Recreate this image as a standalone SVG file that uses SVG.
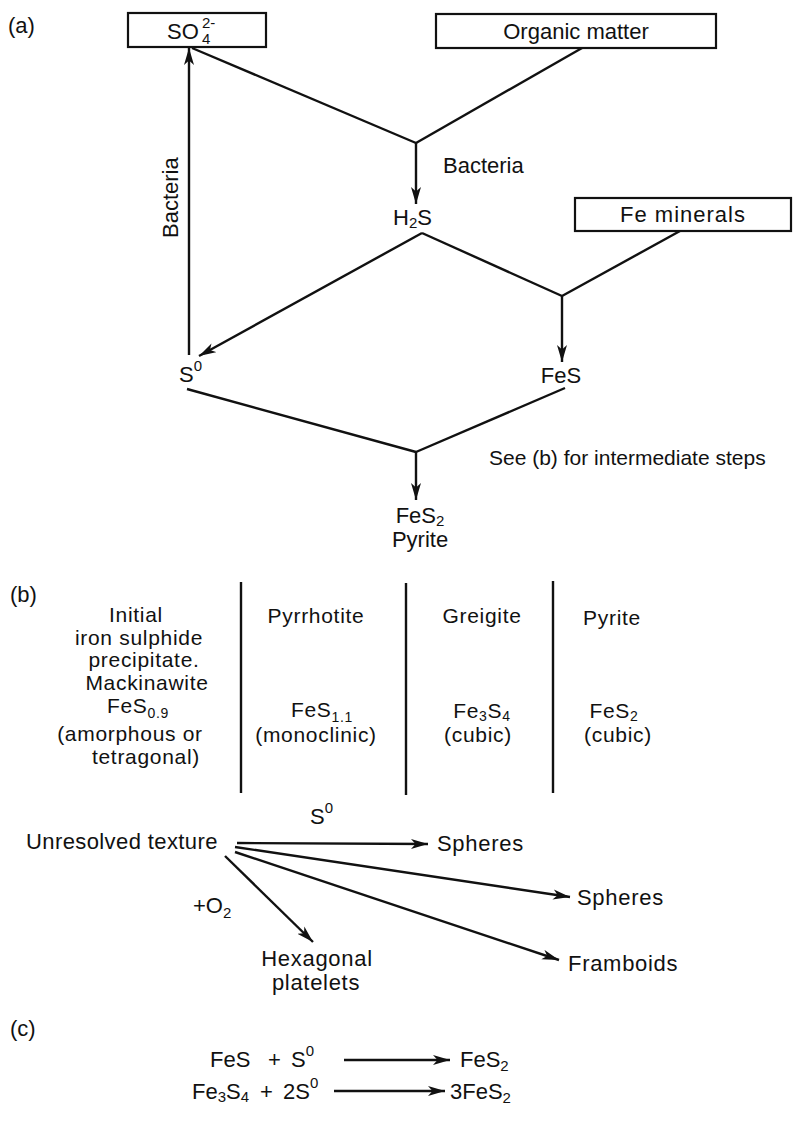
<svg xmlns="http://www.w3.org/2000/svg" width="793" height="1123" viewBox="0 0 793 1123">
<defs>
<style>
.t{font-family:"Liberation Sans",Arial,Helvetica,sans-serif;font-size:22px;fill:#111}
.b{font-size:21px}
.m{text-anchor:middle}
.ls{letter-spacing:0.7px}
.ln{stroke:#111;stroke-width:2.4;fill:none}
.box{fill:#fff;stroke:#111;stroke-width:2.2}
</style>
<marker id="arr" viewBox="0 0 17 11" refX="17" refY="5.5" markerWidth="17" markerHeight="11" markerUnits="userSpaceOnUse" orient="auto">
<path d="M0,0.5 L17,5.5 L0,10.5 L4.5,5.5 Z" fill="#111"/>
</marker>
</defs>
<rect x="0" y="0" width="793" height="1123" fill="#fff"/>

<!-- Part (a) -->
<text class="t" x="8" y="33">(a)</text>

<g id="connectors-a">
<path class="ln" d="M192,48 L416,143"/>
<path class="ln" d="M582,48 L416,143"/>
<path class="ln" d="M416,143 L416,204" marker-end="url(#arr)"/>
<path class="ln" d="M422,233 L199,356" marker-end="url(#arr)"/>
<path class="ln" d="M422,233 L562,296"/>
<path class="ln" d="M680,231 L562,296"/>
<path class="ln" d="M562,296 L562,362" marker-end="url(#arr)"/>
<path class="ln" d="M189,355 L189,48" marker-end="url(#arr)"/>
<path class="ln" d="M187,389 L416,452"/>
<path class="ln" d="M565,388 L416,452"/>
<path class="ln" d="M416,452 L416,500" marker-end="url(#arr)"/>
</g>

<g id="node-so4">
<rect class="box" x="128" y="13" width="138" height="34"/>
<text class="t" x="167" y="39">SO<tspan x="202" y="28" font-size="15">2-</tspan><tspan x="202" y="44" font-size="15">4</tspan></text>
</g>

<g id="node-organic">
<rect class="box" x="436" y="14" width="280" height="34"/>
<text class="t m" x="576" y="39">Organic matter</text>
</g>

<g id="label-bacteria-1">
<text class="t" x="443" y="173">Bacteria</text>
</g>

<g id="label-bacteria-2">
<text class="t" transform="translate(178,238) rotate(-90)">Bacteria</text>
</g>

<g id="node-h2s">
<text class="t" x="393" y="225">H<tspan font-size="15" dy="3">2</tspan><tspan dy="-3">S</tspan></text>
</g>

<g id="node-fe-minerals">
<rect class="box" x="575" y="198" width="216" height="33"/>
<text class="t m" x="683" y="222" letter-spacing="1">Fe minerals</text>
</g>

<g id="node-s0">
<text class="t" x="179" y="382">S<tspan font-size="15" dy="-11">0</tspan></text>
</g>

<g id="node-fes">
<text class="t m" x="561" y="383">FeS</text>
</g>

<g id="label-see-b">
<text class="t b" x="489" y="465">See (b) for intermediate steps</text>
</g>

<g id="node-fes2-pyrite">
<text class="t m" x="420" y="523">FeS<tspan font-size="15" dy="3">2</tspan></text>
<text class="t m" x="420" y="547">Pyrite</text>
</g>

<!-- Part (b) -->
<text class="t" x="10" y="602">(b)</text>

<g id="columns">
<path class="ln" d="M241,582 L241,793"/>
<path class="ln" d="M406,583 L406,795"/>
<path class="ln" d="M553,581 L553,793"/>
</g>

<g id="col-mackinawite">
<text class="t b m ls" x="136" y="622">Initial</text>
<text class="t b m ls" x="139" y="645">iron sulphide</text>
<text class="t b m ls" x="144" y="667">precipitate.</text>
<text class="t b m ls" x="147" y="690">Mackinawite</text>
<text class="t b m ls" x="138" y="713">FeS<tspan font-size="14" dy="5">0.9</tspan></text>
<text class="t b m ls" x="130" y="741">(amorphous or</text>
<text class="t b m ls" x="146" y="764">tetragonal)</text>
</g>

<g id="col-pyrrhotite">
<text class="t b m ls" x="316" y="623">Pyrrhotite</text>
<text class="t b m ls" x="322" y="717">FeS<tspan font-size="14" dy="5">1.1</tspan></text>
<text class="t b m ls" x="316" y="742">(monoclinic)</text>
</g>

<g id="col-greigite">
<text class="t b m ls" x="482" y="623">Greigite</text>
<text class="t b m ls" x="482" y="718">Fe<tspan font-size="14" dy="3">3</tspan><tspan dy="-3">S</tspan><tspan font-size="14" dy="3">4</tspan></text>
<text class="t b m ls" x="478" y="742">(cubic)</text>
</g>

<g id="col-pyrite">
<text class="t b m ls" x="612" y="625">Pyrite</text>
<text class="t b m ls" x="614" y="718">FeS<tspan font-size="14" dy="3">2</tspan></text>
<text class="t b m ls" x="618" y="742">(cubic)</text>
</g>

<g id="connectors-b">
<path class="ln" d="M237,843 L428,844" marker-end="url(#arr)"/>
<path class="ln" d="M235,847 L570,897" marker-end="url(#arr)"/>
<path class="ln" d="M235,852 L559,960" marker-end="url(#arr)"/>
<path class="ln" d="M225,856 L313,942" marker-end="url(#arr)"/>
</g>

<g id="label-s0-b">
<text class="t" x="310" y="824">S<tspan font-size="15" dy="-11">0</tspan></text>
</g>

<g id="node-unresolved">
<text class="t" x="26" y="849" letter-spacing="0.4">Unresolved texture</text>
</g>

<g id="node-spheres-1">
<text class="t ls" x="437" y="851">Spheres</text>
</g>

<g id="node-spheres-2">
<text class="t ls" x="577" y="905">Spheres</text>
</g>

<g id="node-framboids">
<text class="t ls" x="568" y="971">Framboids</text>
</g>

<g id="label-o2">
<text class="t" x="193" y="913">+O<tspan font-size="15" dy="5">2</tspan></text>
</g>

<g id="node-hexagonal">
<text class="t m ls" x="317" y="966">Hexagonal</text>
<text class="t m ls" x="316" y="990">platelets</text>
</g>

<!-- Part (c) -->
<text class="t" x="10" y="1036">(c)</text>

<g id="connectors-c">
<path class="ln" d="M344,1060 L450,1060" marker-end="url(#arr)"/>
<path class="ln" d="M334,1091 L445,1091" marker-end="url(#arr)"/>
</g>

<g id="eq-1">
<text class="t" x="210" y="1067">FeS</text>
<text class="t" x="268" y="1067">+</text>
<text class="t" x="291" y="1067">S<tspan font-size="15" dy="-11">0</tspan></text>
<text class="t" x="460" y="1067">FeS<tspan font-size="15" dy="4">2</tspan></text>
</g>

<g id="eq-2">
<text class="t" x="192" y="1099">Fe<tspan font-size="15" dy="3">3</tspan><tspan dy="-3">S</tspan><tspan font-size="15" dy="3">4</tspan></text>
<text class="t" x="260" y="1099">+</text>
<text class="t" x="283" y="1099">2S<tspan font-size="15" dy="-11">0</tspan></text>
<text class="t" x="450" y="1099">3FeS<tspan font-size="15" dy="4">2</tspan></text>
</g>
</svg>
